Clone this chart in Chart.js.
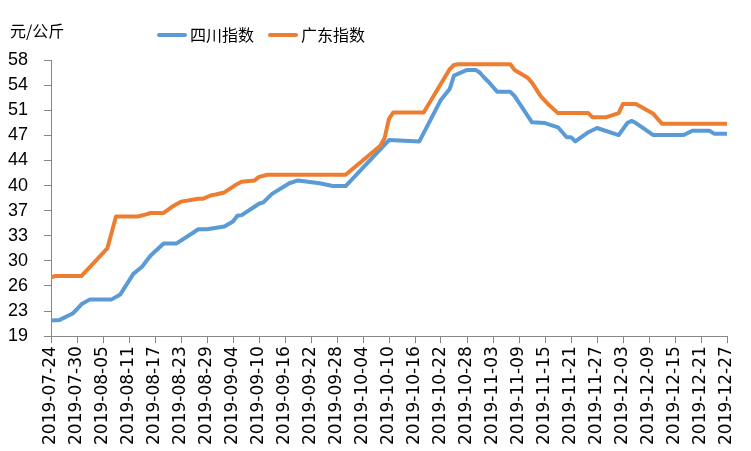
<!DOCTYPE html>
<html>
<head>
<meta charset="utf-8">
<script src="https://cdn.jsdelivr.net/npm/chart.js@4.4.1/dist/chart.umd.min.js"></script>
<style>
  html, body { margin: 0; padding: 0; background: #fff; }
  canvas { display: block; }
</style>
</head>
<body>
<canvas id="chart" width="751" height="451"></canvas>
<script>
/* Pork price index, Sichuan vs Guangdong (元/公斤), 2019-07-24 .. 2019-12-27 */

const startDate = '2019-07-24';
const dayCount = 156;

const tickLabels = [
    '2019-07-24', '2019-07-30', '2019-08-05', '2019-08-11', '2019-08-17', '2019-08-23',
    '2019-08-29', '2019-09-04', '2019-09-10', '2019-09-16', '2019-09-22', '2019-09-28',
    '2019-10-04', '2019-10-10', '2019-10-16', '2019-10-22', '2019-10-28', '2019-11-03',
    '2019-11-09', '2019-11-15', '2019-11-21', '2019-11-27', '2019-12-03', '2019-12-09',
    '2019-12-15', '2019-12-21', '2019-12-27'
];

// 四川指数
const scDates = [
    '2019-07-24', '2019-07-26', '2019-07-29', '2019-07-30', '2019-07-31', '2019-08-02',
    '2019-08-07', '2019-08-09', '2019-08-12', '2019-08-14', '2019-08-16', '2019-08-19',
    '2019-08-22', '2019-08-27', '2019-08-29', '2019-09-02', '2019-09-04', '2019-09-05',
    '2019-09-06', '2019-09-10', '2019-09-11', '2019-09-13', '2019-09-17', '2019-09-19',
    '2019-09-24', '2019-09-27', '2019-09-30', '2019-10-10', '2019-10-17', '2019-10-22',
    '2019-10-24', '2019-10-25', '2019-10-28', '2019-10-30', '2019-10-31', '2019-11-01',
    '2019-11-02', '2019-11-04', '2019-11-07', '2019-11-08', '2019-11-12', '2019-11-15',
    '2019-11-18', '2019-11-20', '2019-11-21', '2019-11-22', '2019-11-25', '2019-11-27',
    '2019-12-02', '2019-12-04', '2019-12-05', '2019-12-06', '2019-12-10', '2019-12-17',
    '2019-12-19', '2019-12-23', '2019-12-24', '2019-12-27'
];
const scValues = [
    21.2, 21.3, 22.2, 22.8, 23.5, 24.2,
    24.2, 24.9, 27.8, 28.8, 30.4, 32.1,
    32.1, 34.1, 34.1, 34.5, 35.2, 36.0,
    36.1, 37.7, 37.9, 39.1, 40.6, 41.0,
    40.6, 40.2, 40.2, 46.7, 46.5, 52.4,
    53.9, 55.8, 56.6, 56.6, 56.2, 55.5,
    54.9, 53.5, 53.5, 52.9, 49.2, 49.1,
    48.5, 47.1, 47.1, 46.5, 47.8, 48.4,
    47.4, 49.1, 49.4, 49.1, 47.4, 47.4,
    48.0, 48.0, 47.6, 47.6
];

// 广东指数
const gdDates = [
    '2019-07-24', '2019-07-25', '2019-07-31', '2019-08-06', '2019-08-08', '2019-08-13',
    '2019-08-15', '2019-08-16', '2019-08-19', '2019-08-21', '2019-08-23', '2019-08-27',
    '2019-08-28', '2019-08-30', '2019-08-31', '2019-09-02', '2019-09-05', '2019-09-06',
    '2019-09-09', '2019-09-10', '2019-09-12', '2019-09-30', '2019-10-08', '2019-10-09',
    '2019-10-10', '2019-10-11', '2019-10-18', '2019-10-24', '2019-10-25', '2019-10-26',
    '2019-11-07', '2019-11-08', '2019-11-11', '2019-11-12', '2019-11-14', '2019-11-16',
    '2019-11-18', '2019-11-25', '2019-11-26', '2019-11-29', '2019-12-02', '2019-12-03',
    '2019-12-06', '2019-12-10', '2019-12-12', '2019-12-27'
];
const gdValues = [
    27.3, 27.5, 27.5, 31.4, 35.9, 35.9,
    36.2, 36.4, 36.4, 37.3, 38.0, 38.4,
    38.4, 38.9, 39.0, 39.3, 40.5, 40.8,
    41.0, 41.5, 41.8, 41.8, 45.9, 47.0,
    49.7, 50.6, 50.6, 56.7, 57.3, 57.4,
    57.4, 56.6, 55.5, 54.8, 52.9, 51.6,
    50.5, 50.5, 49.9, 49.9, 50.5, 51.8,
    51.8, 50.4, 49.0, 49.0
];

const COLORS = { sc: '#5B9BD5', gd: '#ED7D31', axis: '#868686', text: '#000000' };

const dayOf = d => (Date.parse(d) - Date.parse(startDate)) / 864e5;
const toPoints = (dates, values) => dates.map((d, i) => ({ x: dayOf(d), y: values[i] }));

// unit label + legend sit on one row above the plot, like the Excel original
const headerPlugin = {
    id: 'header',
    afterDraw(chart) {
        const ctx = chart.ctx;
        ctx.save();
        ctx.fillStyle = COLORS.text;
        ctx.textBaseline = 'middle';
        ctx.font = '16px "Noto Sans CJK SC"';
        ctx.fillText('元/公斤', 10, 31);

        let x = 157;
        chart.data.datasets.forEach(ds => {
            ctx.strokeStyle = ds.borderColor;
            ctx.lineWidth = 4;
            ctx.lineCap = 'round';
            ctx.beginPath();
            ctx.moveTo(x + 2, 35);
            ctx.lineTo(x + 28, 35);
            ctx.stroke();
            ctx.fillStyle = COLORS.text;
            ctx.fillText(ds.label, x + 33, 35);
            x += 33 + ctx.measureText(ds.label).width + 14;
        });
        ctx.restore();
    }
};

new Chart(document.getElementById('chart'), {
    type: 'line',
    data: {
        datasets: [
            {
                label: '四川指数', data: toPoints(scDates, scValues),
                borderColor: COLORS.sc, backgroundColor: COLORS.sc, order: 1
            },
            {
                label: '广东指数', data: toPoints(gdDates, gdValues),
                borderColor: COLORS.gd, backgroundColor: COLORS.gd, order: 0
            }
        ]
    },
    options: {
        responsive: false,
        animation: false,
        elements: {
            line: { borderWidth: 4, tension: 0, borderJoinStyle: 'round', borderCapStyle: 'round' },
            point: { radius: 0 }
        },
        layout: { padding: { left: 8, right: 24, top: 60, bottom: 3 } },
        plugins: { legend: { display: false }, tooltip: { enabled: false } },
        scales: {
            x: {
                type: 'linear', min: 0, max: dayCount,
                ticks: {
                    stepSize: 6, autoSkip: false, minRotation: 90, maxRotation: 90, padding: 3,
                    color: COLORS.text, font: { family: 'DejaVu Sans', size: 17 },
                    callback: v => tickLabels[v / 6]
                },
                grid: { drawOnChartArea: false, tickLength: 7, color: COLORS.axis },
                border: { color: COLORS.axis }
            },
            y: {
                min: 19, max: 58,
                // Chart.js doubles the tick padding when sizing; pin the width instead
                afterFit: scale => { scale.width = 43; },
                ticks: {
                    count: 12, padding: 16,
                    color: COLORS.text, font: { family: 'Liberation Sans', size: 18 },
                    callback: v => Math.round(v)
                },
                grid: { drawOnChartArea: false, tickLength: 7, color: COLORS.axis },
                border: { color: COLORS.axis }
            }
        }
    },
    plugins: [headerPlugin]
});
</script>
</body>
</html>
